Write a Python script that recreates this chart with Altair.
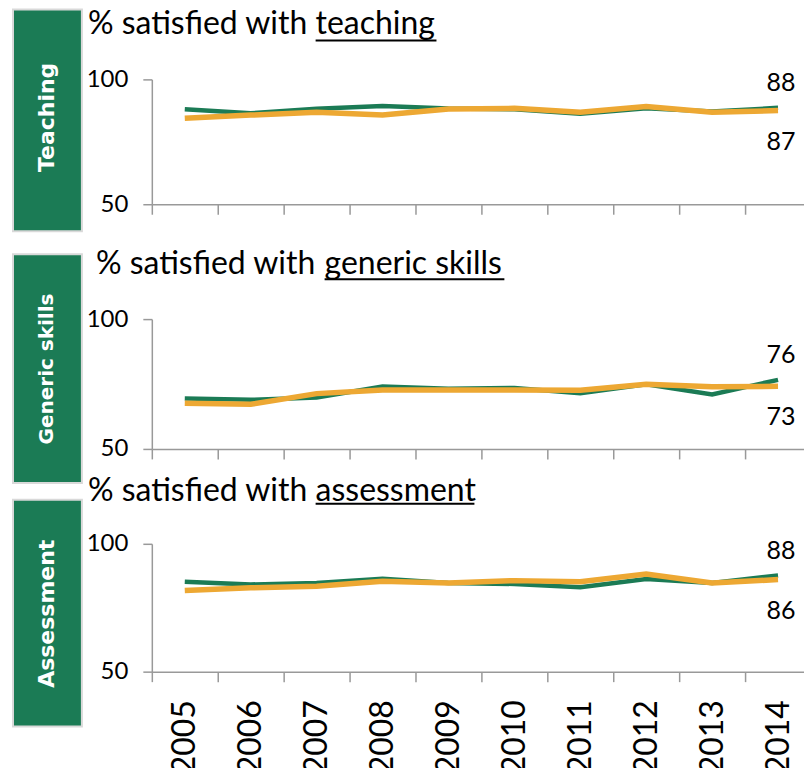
import altair as alt
import pandas as pd

years = [2005, 2006, 2007, 2008, 2009, 2010, 2011, 2012, 2013, 2014]

teaching_a = [88.0, 86.4, 88.2, 89.3, 88.3, 88.0, 86.2, 88.4, 87.1, 88.6]
teaching_b = [84.4, 85.7, 86.8, 85.7, 88.1, 88.4, 86.8, 89.1, 86.8, 87.5]
generic_a = [69.4, 68.9, 69.8, 74.0, 73.2, 73.5, 71.4, 74.9, 71.0, 76.6]
generic_b = [67.6, 67.2, 71.3, 72.7, 72.7, 72.7, 72.6, 74.9, 73.9, 74.1]
assess_a = [85.2, 84.1, 84.7, 86.3, 84.7, 84.3, 83.0, 86.2, 84.7, 87.6]
assess_b = [81.7, 82.8, 83.4, 85.4, 84.7, 85.6, 85.2, 88.2, 84.7, 86.0]

title_prefix = "% satisfied with"
title_words = ["teaching", "generic skills", "assessment"]
side_labels = ["Teaching", "Generic skills", "Assessment"]
end_a = ["88", "76", "88"]
end_b = ["87", "73", "86"]

GREEN = "#1b7b55"
ORANGE = "#eda833"
FONT = "Lato"


def panel(i, a, b, height, yrange, box_top, box_bottom, side_y, side_size,
          title_x, title_y, under_x, under_x2, under_y, show_labels):
    df = pd.DataFrame({
        "year": years + years,
        "series": ["A"] * len(years) + ["B"] * len(years),
        "value": a + b,
    })
    ends = pd.DataFrame({
        "year": [years[-1], years[-1]],
        "series": ["A", "B"],
        "value": [a[-1], b[-1]],
        "label": [end_a[i], end_b[i]],
    })
    deco = pd.DataFrame({"k": [0]})

    x = alt.X("year:O",
              scale=alt.Scale(paddingInner=0, paddingOuter=0),
              axis=alt.Axis(title=None, tickBand="extent", labels=show_labels,
                            labelAngle=270, labelFontSize=32, labelPadding=18,
                            tickSize=10, offset=yrange - height))
    y = alt.Y("value:Q",
              scale=alt.Scale(domain=[50, 100], nice=False, zero=False, range=[yrange, 0]),
              axis=alt.Axis(title=None, values=[50, 100], tickSize=9,
                            labelPadding=15, labelFontSize=24, grid=False,
                            labelFlush=False))

    box = alt.Chart(deco).mark_rect(fill=GREEN, stroke="#d9d9d9", strokeWidth=2).encode(
        x=alt.value(-139), x2=alt.value(-70),
        y=alt.value(box_top), y2=alt.value(box_bottom))
    side = alt.Chart(deco).mark_text(
        angle=270, font="DejaVu Sans", fontWeight="bold", fontSize=side_size,
        color="white", align="center", baseline="middle").encode(
        x=alt.value(-104.5), y=alt.value(side_y), text=alt.value(side_labels[i]))
    t1 = alt.Chart(deco).mark_text(
        align="left", baseline="alphabetic", font=FONT, fontSize=32, color="black").encode(
        x=alt.value(title_x), y=alt.value(title_y), text=alt.value(title_prefix))
    t2 = alt.Chart(deco).mark_text(
        align="left", baseline="alphabetic", font=FONT, fontSize=32, color="black").encode(
        x=alt.value(under_x), y=alt.value(title_y), text=alt.value(title_words[i]))
    ul = alt.Chart(deco).mark_rule(color="black", strokeWidth=2).encode(
        x=alt.value(under_x), x2=alt.value(under_x2), y=alt.value(under_y))

    base = alt.Chart(df)
    line_a = base.transform_filter(alt.datum.series == "A").mark_line(
        color=GREEN, strokeWidth=4.5).encode(x=x, y=y)
    line_b = base.transform_filter(alt.datum.series == "B").mark_line(
        color=ORANGE, strokeWidth=5.5).encode(x=alt.X("year:O"), y=alt.Y("value:Q"))
    lab_a = alt.Chart(ends).transform_filter(alt.datum.series == "A").mark_text(
        dy=-25, dx=3, font=FONT, fontSize=25, color="black").encode(
        x=alt.X("year:O"), y=alt.Y("value:Q"), text="label:N")
    lab_b = alt.Chart(ends).transform_filter(alt.datum.series == "B").mark_text(
        dy=31, dx=3, font=FONT, fontSize=25, color="black").encode(
        x=alt.X("year:O"), y=alt.Y("value:Q"), text="label:N")

    return alt.layer(line_a, box, side, t1, t2, ul, line_b, lab_a, lab_b).properties(
        width=660, height=height)


p1 = panel(0, teaching_a, teaching_b, 125, 125, -70, 152, 38, 22, -64, -45, 164, 285, -39, False)
p2 = panel(1, generic_a, generic_b, 110, 130, -65, 164, 50, 20, -56, -45, 173, 353, -40, False)
p3 = panel(2, assess_a, assess_b, 128, 128, -44, 183, 70, 22, -64, -43, 164, 323, -40, True)

chart = alt.vconcat(p1, p2, p3, spacing=115, bounds="flush").resolve_scale(
    y="independent"
).properties(
    padding={"left": 4, "top": 0, "right": -8, "bottom": 0}
).configure_view(stroke=None).configure_axis(
    domainColor="#999999", tickColor="#999999", domainWidth=1.5, tickWidth=1.5,
    labelFont=FONT, labelColor="black"
)

chart.save("out.html", embed_options={"renderer": "svg", "actions": False})
